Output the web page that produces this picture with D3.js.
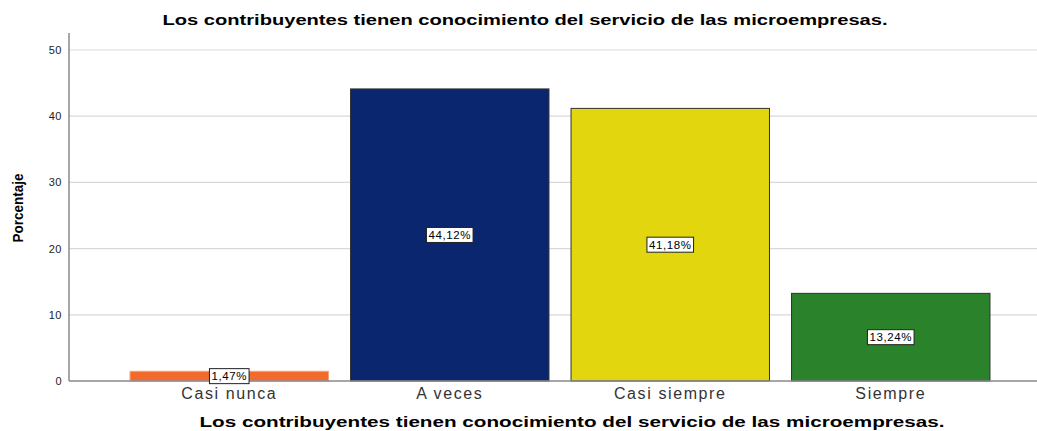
<!DOCTYPE html>
<html>
	<head>
		<meta charset="utf-8" />
		<title>Conocimiento del servicio</title>
		<style>
			body,
			html {
				margin: 0;
				padding: 0;
				background: #fff;
			}
			text {
				font-family: 'Liberation Sans', Arial, sans-serif;
			}
		</style>
	</head>
	<body>
		<svg id="svg" width="1037" height="431"></svg>

		<script src="https://d3js.org/d3.v7.min.js"></script>
		<script>
			// data
			const categories = ['Casi nunca', 'A veces', 'Casi siempre', 'Siempre'];
			const percentages = [1.47, 44.12, 41.18, 13.24];
			const barColors = ['#f26a2c', '#0a266e', '#e2d60f', '#2a832a'];
			const yTicks = [0, 10, 20, 30, 40, 50];
			const chartTitle = 'Los contribuyentes tienen conocimiento del servicio de las microempresas.';
			const yTitle = 'Porcentaje';

			const plotLeft = 69;
			const plotRight = 1037;
			const plotTop = 33;
			const plotBottom = 381;

			const data = categories.map((c, i) => ({ cat: c, value: percentages[i], color: barColors[i] }));

			const svg = d3.select('#svg');

			const xscale = d3
				.scaleBand()
				.domain(categories)
				.range([119, 1001])
				.paddingInner(0.1)
				.paddingOuter(0.05);

			const yscale = d3.scaleLinear().domain([0, 50]).range([plotBottom, 50]);

			// gridlines
			svg
				.append('g')
				.selectAll('line')
				.data(yTicks.filter((t) => t > 0))
				.enter()
				.append('line')
				.attr('x1', plotLeft)
				.attr('x2', plotRight)
				.attr('y1', (d) => yscale(d))
				.attr('y2', (d) => yscale(d))
				.attr('stroke', '#d9d9d9')
				.attr('stroke-width', 1.2);

			// left axis
			const leftAxis = d3.axisLeft(yscale).tickValues(yTicks).tickSize(0).tickPadding(7);
			const yAxisG = svg.append('g').attr('transform', `translate(${plotLeft}, 0)`).call(leftAxis);
			yAxisG.select('.domain').remove();
			yAxisG.selectAll('text').attr('font-size', 11).attr('fill', '#222').attr('letter-spacing', 0.5);
			svg
				.append('line')
				.attr('x1', plotLeft)
				.attr('x2', plotLeft)
				.attr('y1', plotTop)
				.attr('y2', plotBottom)
				.attr('stroke', '#8a8a8a')
				.attr('stroke-width', 1.5);

			// bars
			svg
				.append('g')
				.selectAll('rect')
				.data(data)
				.enter()
				.append('rect')
				.attr('x', (d) => xscale(d.cat))
				.attr('y', (d) => yscale(d.value))
				.attr('width', xscale.bandwidth())
				.attr('height', (d) => plotBottom - yscale(d.value))
				.attr('fill', (d) => d.color)
				.attr('stroke', (d, i) => (i === 0 ? '#f5a47a' : '#333'))
				.attr('stroke-width', 1);

			// bottom axis
			const bottomAxis = d3.axisBottom(xscale).tickSize(0).tickPadding(7);
			const xAxisG = svg.append('g').attr('transform', `translate(0, ${plotBottom})`).call(bottomAxis);
			xAxisG.select('.domain').remove();
			xAxisG
				.selectAll('text')
				.attr('font-size', 16)
				.attr('letter-spacing', 1.6)
				.attr('fill', '#333');
			svg
				.append('line')
				.attr('x1', plotLeft)
				.attr('x2', plotRight)
				.attr('y1', plotBottom)
				.attr('y2', plotBottom)
				.attr('stroke', '#8a8a8a')
				.attr('stroke-width', 1.5);

			// value labels in white boxes
			const labels = svg
				.append('g')
				.selectAll('g')
				.data(data)
				.enter()
				.append('g')
				.attr('transform', (d) => {
					const cx = xscale(d.cat) + xscale.bandwidth() / 2;
					const cy = (yscale(d.value) + plotBottom) / 2;
					return `translate(${cx}, ${cy})`;
				});
			labels.each(function (d) {
				const g = d3.select(this);
				const txt = g
					.append('text')
					.attr('text-anchor', 'middle')
					.attr('dy', '0.36em')
					.attr('font-size', 11.5)
					.attr('letter-spacing', 0.6)
					.attr('fill', '#000')
					.text(d.value.toFixed(2).replace('.', ',') + '%');
				const w = txt.node().getComputedTextLength();
				g.insert('rect', 'text')
					.attr('x', -w / 2 - 2)
					.attr('y', -7.5)
					.attr('width', w + 4)
					.attr('height', 15)
					.attr('fill', '#fff')
					.attr('stroke', '#222')
					.attr('stroke-width', 1);
			});

			// title
			svg
				.append('text')
				.attr('x', 525)
				.attr('y', 25)
				.attr('text-anchor', 'middle')
				.attr('font-size', 14)
				.attr('font-weight', 'bold')
				.attr('textLength', 725)
				.attr('lengthAdjust', 'spacingAndGlyphs')
				.text(chartTitle);

			// x axis title
			svg
				.append('text')
				.attr('x', 572)
				.attr('y', 427)
				.attr('text-anchor', 'middle')
				.attr('font-size', 15)
				.attr('font-weight', 'bold')
				.attr('textLength', 745)
				.attr('lengthAdjust', 'spacingAndGlyphs')
				.text(chartTitle);

			// y axis title
			svg
				.append('text')
				.attr('transform', 'translate(23, 208) rotate(-90)')
				.attr('text-anchor', 'middle')
				.attr('font-size', 15)
				.attr('font-weight', 'bold')
				.attr('textLength', 69)
				.attr('lengthAdjust', 'spacingAndGlyphs')
				.text(yTitle);
		</script>
	</body>
</html>
